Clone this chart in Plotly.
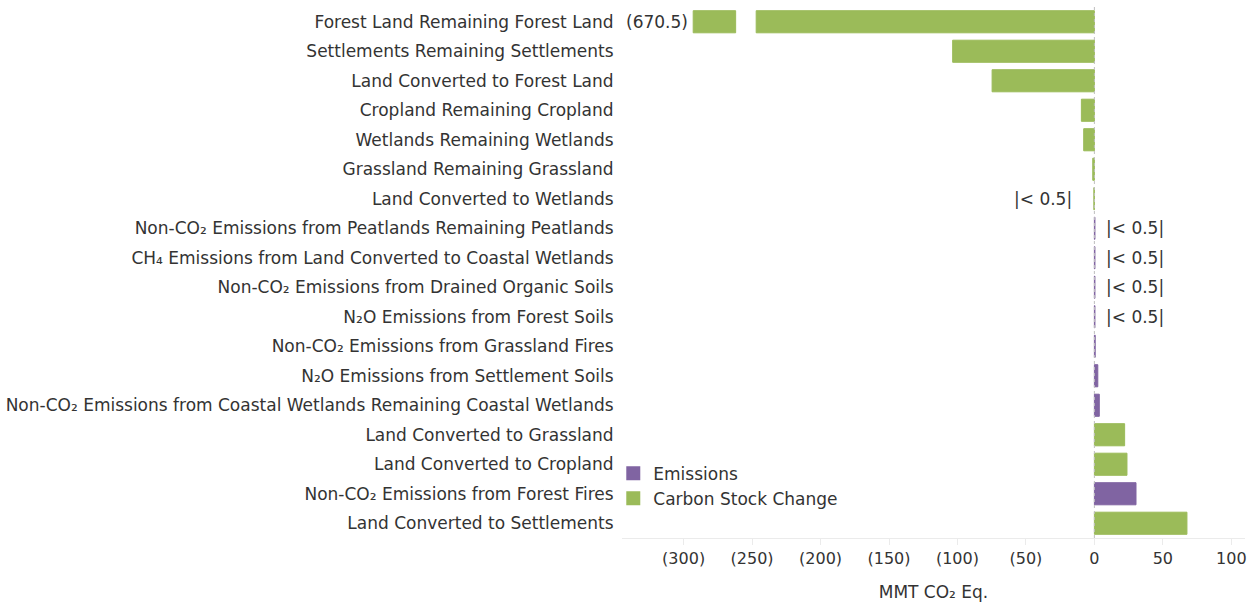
import plotly.graph_objects as go

# categories top to bottom
categories = [
    "Forest Land Remaining Forest Land",
    "Settlements Remaining Settlements",
    "Land Converted to Forest Land",
    "Cropland Remaining Cropland",
    "Wetlands Remaining Wetlands",
    "Grassland Remaining Grassland",
    "Land Converted to Wetlands",
    "Non-CO₂ Emissions from Peatlands Remaining Peatlands",
    "CH₄ Emissions from Land Converted to Coastal Wetlands",
    "Non-CO₂ Emissions from Drained Organic Soils",
    "N₂O Emissions from Forest Soils",
    "Non-CO₂ Emissions from Grassland Fires",
    "N₂O Emissions from Settlement Soils",
    "Non-CO₂ Emissions from Coastal Wetlands Remaining Coastal Wetlands",
    "Land Converted to Grassland",
    "Land Converted to Cropland",
    "Non-CO₂ Emissions from Forest Fires",
    "Land Converted to Settlements",
]
values = [-670.5, -103.5, -74.7, -9.5, -7.8, -1.2, -0.4, 0.4, 0.4, 0.4, 0.4,
          0.6, 2.5, 3.6, 22.1, 23.8, 30.4, 67.6]
kind = ["C", "C", "C", "C", "C", "C", "C", "E", "E", "E", "E",
        "E", "E", "E", "C", "C", "E", "C"]
small_labels = ["", "", "", "", "", "", "|< 0.5|", "|< 0.5|", "|< 0.5|", "|< 0.5|", "|< 0.5|",
                "", "", "", "", "", "", ""]

tick_vals = [-300, -250, -200, -150, -100, -50, 0, 50, 100]
tick_text = ["(300)", "(250)", "(200)", "(150)", "(100)", "(50)", "0", "50", "100"]

# broken-axis display for the off-scale bar
BREAK_NEAR = -247
BREAK_FAR = -262
CLIP_AT = -293

GREEN = "#9BBB59"
PURPLE = "#8064A2"
TEXT = "#333333"
FONT = "DejaVu Sans"
FS = 17

fig = go.Figure()

def split(k):
    ys, xs = [], []
    for c, v, t in zip(categories, values, kind):
        if t != k:
            continue
        ys.append(c)
        xs.append(max(v, BREAK_NEAR) if v < CLIP_AT else v)
    return ys, xs

ey, ex = split("E")
cy, cx = split("C")

fig.add_trace(go.Bar(y=ey, x=ex, orientation="h", name="Emissions",
                     marker=dict(color=PURPLE, line=dict(color=PURPLE, width=1))))
fig.add_trace(go.Bar(y=cy, x=cx, orientation="h", name="Carbon Stock Change",
                     marker=dict(color=GREEN, line=dict(color=GREEN, width=1))))

# stub of the off-scale bar beyond the break
off = [(c, v) for c, v in zip(categories, values) if v < CLIP_AT]
fig.add_trace(go.Bar(y=[c for c, v in off], x=[CLIP_AT - BREAK_FAR for c, v in off],
                     base=[BREAK_FAR for c, v in off], orientation="h", showlegend=False,
                     marker=dict(color=GREEN, line=dict(color=GREEN, width=1))))
for c, v in off:
    fig.add_annotation(x=CLIP_AT, y=c, text=f"({abs(v):.1f})", showarrow=False,
                       xanchor="right", xshift=-3, font=dict(size=FS, color=TEXT, family=FONT))

for c, v, lab in zip(categories, values, small_labels):
    if lab:
        fig.add_annotation(x=0, y=c, text=lab, showarrow=False,
                           xanchor="right" if v < 0 else "left",
                           xshift=-20 if v < 0 else 10,
                           font=dict(size=FS, color=TEXT, family=FONT))

fig.add_vline(x=0, line=dict(color="#BFBFBF", width=1, dash="dot"))

fig.update_layout(
    width=1247, height=605,
    margin=dict(l=622, r=2, t=7, b=67),
    plot_bgcolor="white", paper_bgcolor="white",
    barmode="overlay", bargap=0.25,
    font=dict(family=FONT, size=FS, color=TEXT),
    showlegend=True,
    legend=dict(x=-0.014, y=0.155, xanchor="left", yanchor="top",
                bgcolor="rgba(0,0,0,0)", font=dict(size=FS, color=TEXT),
                tracegroupgap=0, itemsizing="constant"),
    xaxis=dict(range=[-345, 110], tickvals=tick_vals, ticktext=tick_text,
               automargin=False,
               showgrid=False, zeroline=False, showline=True, linecolor="#EBEBEB",
               ticks="outside", ticklen=6, tickcolor="#EBEBEB",
               ticklabeloverflow="allow",
               tickfont=dict(size=16, color=TEXT),
               title=dict(text="MMT CO₂ Eq.", font=dict(size=FS, color=TEXT), standoff=18)),
    yaxis=dict(categoryorder="array", categoryarray=categories, autorange="reversed",
               automargin=False,
               showgrid=False, zeroline=False, showline=False,
               ticks="outside", ticklen=4, tickcolor="rgba(0,0,0,0)",
               tickfont=dict(size=FS, color=TEXT)),
)

# page without the default body margin so the figure fills the window exactly
fig.write_html("out.html", config={"displayModeBar": False},
               post_script="document.body.style.margin='0';document.body.style.overflow='hidden';")
